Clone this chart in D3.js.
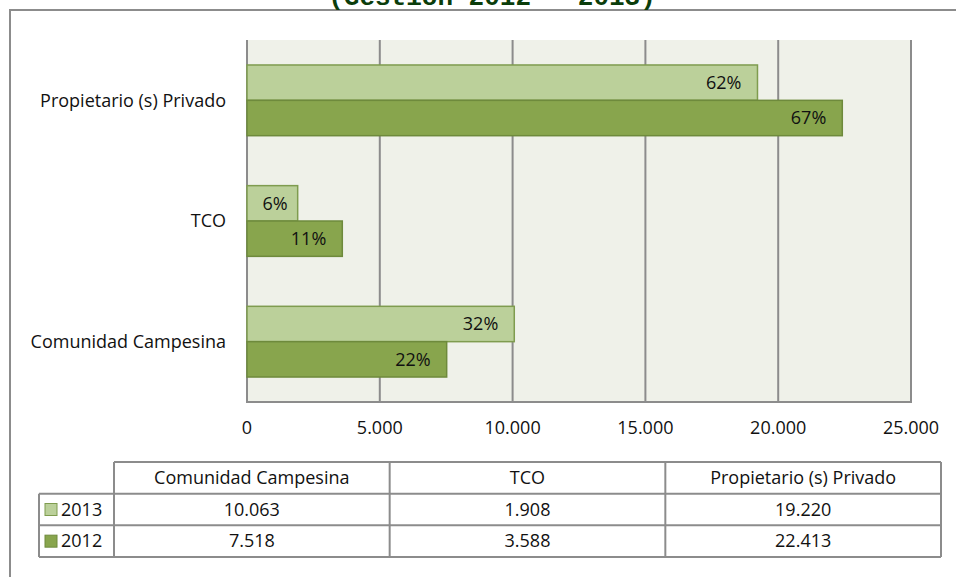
<!DOCTYPE html>
<html>
<head>
<meta charset="utf-8">
<script src="https://cdn.jsdelivr.net/npm/d3@7.9.0/dist/d3.min.js"></script>
<style>
  body { margin: 0; background: #fff; }
  svg { display: block; }
  text { font-family: "Open Sans", "Noto Sans", sans-serif; fill: #111; }
</style>
</head>
<body>
<svg id="chart" width="956" height="577"></svg>
<script>
// categories, bottom to top in the source table order
const categories = ['Comunidad Campesina', 'TCO', 'Propietario (s) Privado'];
const years = ['2013', '2012'];
const values2013 = [10063, 1908, 19220];
const values2012 = [7518, 3588, 22413];
const pct2013 = ['32%', '6%', '62%'];
const pct2012 = ['22%', '11%', '67%'];
const xTicks = [0, 5000, 10000, 15000, 20000, 25000];

const series = [
  { year: years[0], values: values2013, pct: pct2013, fill: '#bbd09a', stroke: '#7f9c4f' },
  { year: years[1], values: values2012, pct: pct2012, fill: '#88a54d', stroke: '#6e8a3c' }
];

const locale = d3.formatLocale({ decimal: ',', thousands: '.', grouping: [3], currency: ['', ''] });
const fmt = locale.format(',d');

const svg = d3.select('#chart');
const grey = '#8c8c8c';
const fs = '18px';

// outer frame
svg.append('rect')
  .attr('x', 10).attr('y', 10)
  .attr('width', 980).attr('height', 620)
  .attr('fill', 'none').attr('stroke', grey).attr('stroke-width', 2);

// title (only the last line shows in the crop)
svg.append('text')
  .attr('x', 492).attr('y', 5)
  .attr('text-anchor', 'middle')
  .style('font-family', '"Liberation Mono", monospace')
  .style('font-weight', 'bold')
  .style('font-size', '26px')
  .style('fill', '#0b3d0b')
  .text('(Gestión 2012 - 2013)');

const x = d3.scaleLinear().domain([0, 25000]).range([247, 911]);
const y = d3.scaleBand()
  .domain(categories.slice().reverse())
  .range([40, 402])
  .paddingInner(0.414)
  .paddingOuter(0.207);
const ySub = d3.scaleBand().domain(years).range([0, y.bandwidth()]);

// plot background
svg.append('rect')
  .attr('x', x(0)).attr('y', 40)
  .attr('width', x(25000) - x(0)).attr('height', 362)
  .attr('fill', '#eff1e9');

// gridlines
svg.append('g')
  .selectAll('line')
  .data(xTicks.slice(1))
  .join('line')
  .attr('x1', d => x(d)).attr('x2', d => x(d))
  .attr('y1', 40).attr('y2', 402)
  .attr('stroke', grey).attr('stroke-width', 2);

// axis lines
svg.append('line')
  .attr('x1', x(0)).attr('x2', x(0)).attr('y1', 40).attr('y2', 403)
  .attr('stroke', grey).attr('stroke-width', 2);
svg.append('line')
  .attr('x1', x(0) - 1).attr('x2', x(25000) + 1).attr('y1', 402).attr('y2', 402)
  .attr('stroke', grey).attr('stroke-width', 2);

// bars
series.forEach(s => {
  const g = svg.append('g');
  g.selectAll('rect')
    .data(categories)
    .join('rect')
    .attr('x', x(0))
    .attr('y', (c) => y(c) + ySub(s.year))
    .attr('width', (c, i) => x(s.values[i]) - x(0))
    .attr('height', ySub.bandwidth())
    .attr('fill', s.fill)
    .attr('stroke', s.stroke)
    .attr('stroke-width', 1.5);
  g.selectAll('text')
    .data(categories)
    .join('text')
    .attr('x', (c, i) => x(s.values[i]) - (s.values[i] < 2500 ? 10 : 16))
    .attr('y', (c) => y(c) + ySub(s.year) + ySub.bandwidth() / 2)
    .attr('dy', '0.35em')
    .attr('text-anchor', 'end')
    .style('font-size', fs)
    .text((c, i) => s.pct[i]);
});

// category labels
svg.append('g')
  .selectAll('text')
  .data(categories)
  .join('text')
  .attr('x', 226)
  .attr('y', d => y(d) + y.bandwidth() / 2)
  .attr('dy', '0.35em')
  .attr('text-anchor', 'end')
  .style('font-size', fs)
  .text(d => d);

// x tick labels
svg.append('g')
  .selectAll('text')
  .data(xTicks)
  .join('text')
  .attr('x', d => x(d))
  .attr('y', 428)
  .attr('dy', '0.35em')
  .attr('text-anchor', 'middle')
  .style('font-size', fs)
  .text(d => fmt(d));

// data table
const colX = d3.scaleBand().domain(categories).range([114, 941]);
const rowY = d3.scaleBand().domain(['head'].concat(years)).range([462, 557]);
const table = svg.append('g');

// header
table.selectAll('.head')
  .data(categories)
  .join('text')
  .attr('class', 'head')
  .attr('x', d => colX(d) + colX.bandwidth() / 2)
  .attr('y', rowY('head') + rowY.bandwidth() / 2)
  .attr('dy', '0.35em')
  .attr('text-anchor', 'middle')
  .style('font-size', fs)
  .text(d => d);

series.forEach(s => {
  const ry = rowY(s.year);
  table.append('rect')
    .attr('x', 45).attr('y', ry + rowY.bandwidth() / 2 - 6)
    .attr('width', 12).attr('height', 12)
    .attr('fill', s.fill).attr('stroke', s.stroke).attr('stroke-width', 1);
  table.append('text')
    .attr('x', 61).attr('y', ry + rowY.bandwidth() / 2)
    .attr('dy', '0.35em')
    .style('font-size', fs)
    .text(s.year);
  table.selectAll('.v' + s.year)
    .data(categories)
    .join('text')
    .attr('x', d => colX(d) + colX.bandwidth() / 2)
    .attr('y', ry + rowY.bandwidth() / 2)
    .attr('dy', '0.35em')
    .attr('text-anchor', 'middle')
    .style('font-size', fs)
    .text((d, i) => fmt(s.values[i]));
});

// table grid lines
const tl = table.append('g').attr('stroke', grey).attr('stroke-width', 2);
// horizontal
tl.append('line').attr('x1', 114).attr('x2', 941).attr('y1', rowY('head')).attr('y2', rowY('head'));
years.forEach(yr => {
  tl.append('line').attr('x1', 39).attr('x2', 941).attr('y1', rowY(yr)).attr('y2', rowY(yr));
});
tl.append('line').attr('x1', 39).attr('x2', 941).attr('y1', 557).attr('y2', 557);
// vertical
tl.append('line').attr('x1', 39).attr('x2', 39).attr('y1', rowY(years[0])).attr('y2', 557);
categories.forEach(c => {
  tl.append('line').attr('x1', colX(c)).attr('x2', colX(c)).attr('y1', rowY('head')).attr('y2', 557);
});
tl.append('line').attr('x1', 941).attr('x2', 941).attr('y1', rowY('head')).attr('y2', 557);
</script>
</body>
</html>
